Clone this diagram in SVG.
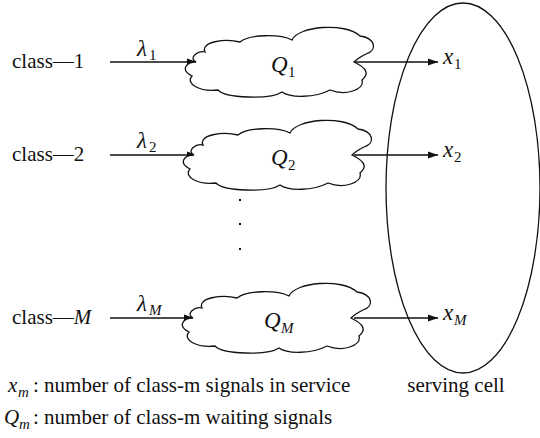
<svg xmlns="http://www.w3.org/2000/svg" xmlns:xlink="http://www.w3.org/1999/xlink" width="540" height="438" viewBox="0 0 540 438">
<style>
text{font-family:'Liberation Serif','Times New Roman',serif;font-size:21px;fill:#111}
.i{font-style:italic}
.m{font-size:23px}
.s{font-size:15px}
.ln{stroke:#111;stroke-width:1.3;fill:none}
.cl{stroke:#111;stroke-width:1.3;fill:#fff}
</style>
<defs>
<marker id="ah" markerWidth="10" markerHeight="8" refX="10" refY="4" orient="auto" markerUnits="userSpaceOnUse">
<path d="M0,0.5 L10,4 L0,7.5 Z" fill="#111"/>
</marker>
<path id="cloud" d="M196,62 C188,58 198,50 205,52 C200,42 225,38 240,42 C250,34 280,34 292,40 C298,26 345,22 360,36 C375,38 378,50 366,54 C360,57 356,60 354,62 C362,66 372,72 362,80 C365,90 345,96 330,90 C315,98 290,98 282,92 C270,100 225,98 218,90 C200,92 185,84 192,76 C180,70 186,62 196,62 Z"/>
</defs>
<rect width="540" height="438" fill="#fff"/>
<g id="cell">
<ellipse cx="463" cy="188" rx="77" ry="185" class="ln"/>
<text x="456" y="392" text-anchor="middle">serving cell</text>
</g>
<g id="connectors">
<line x1="110" y1="62" x2="197" y2="62" class="ln" marker-end="url(#ah)"/>
<line x1="110" y1="155" x2="197" y2="155" class="ln" marker-end="url(#ah)"/>
<line x1="110" y1="318" x2="194" y2="318" class="ln" marker-end="url(#ah)"/>
<line x1="354" y1="62" x2="438" y2="62" class="ln" marker-end="url(#ah)"/>
<line x1="354" y1="155" x2="438" y2="155" class="ln" marker-end="url(#ah)"/>
<line x1="354" y1="318" x2="438" y2="318" class="ln" marker-end="url(#ah)"/>
<text x="137" y="56" class="i m">λ</text><text x="149" y="60" class="s">1</text>
<text x="137" y="148" class="i m">λ</text><text x="149" y="152" class="s">2</text>
<text x="137" y="311" class="i m">λ</text><text x="149" y="315" class="s i">M</text>
</g>
<g id="class1">
<text x="12" y="68">class—1</text>
</g>
<g id="class2">
<text x="12" y="161">class—2</text>
</g>
<g id="classM">
<text x="12" y="324">class—<tspan class="i">M</tspan></text>
</g>
<g id="Q1">
<use xlink:href="#cloud" class="cl"/>
<text x="271" y="72" class="i m">Q</text><text x="288" y="77" class="s">1</text>
</g>
<g id="Q2">
<use xlink:href="#cloud" class="cl" transform="translate(-2,93)"/>
<text x="271" y="165" class="i m">Q</text><text x="288" y="170" class="s">2</text>
</g>
<g id="QM">
<use xlink:href="#cloud" class="cl" transform="translate(-3,256)"/>
<text x="264" y="328" class="i m">Q</text><text x="281" y="333" class="s i">M</text>
</g>
<g id="x1"><text x="443" y="64" class="i m">x</text><text x="454" y="69" class="s">1</text></g>
<g id="x2"><text x="443" y="157" class="i m">x</text><text x="454" y="162" class="s">2</text></g>
<g id="xM"><text x="443" y="320" class="i m">x</text><text x="454" y="325" class="s i">M</text></g>
<g id="dots" fill="#111">
<rect x="239" y="199" width="2" height="2"/>
<rect x="239" y="223" width="2" height="2"/>
<rect x="239" y="248" width="2" height="2"/>
</g>
<g id="legend">
<text x="8" y="392" class="i">x</text><text x="18" y="397" class="s i">m</text><text x="33" y="392">: number of class-m signals in service</text>
<text x="4" y="424" class="i">Q</text><text x="19" y="429" class="s i">m</text><text x="33" y="424">: number of class-m waiting signals</text>
</g>
</svg>
